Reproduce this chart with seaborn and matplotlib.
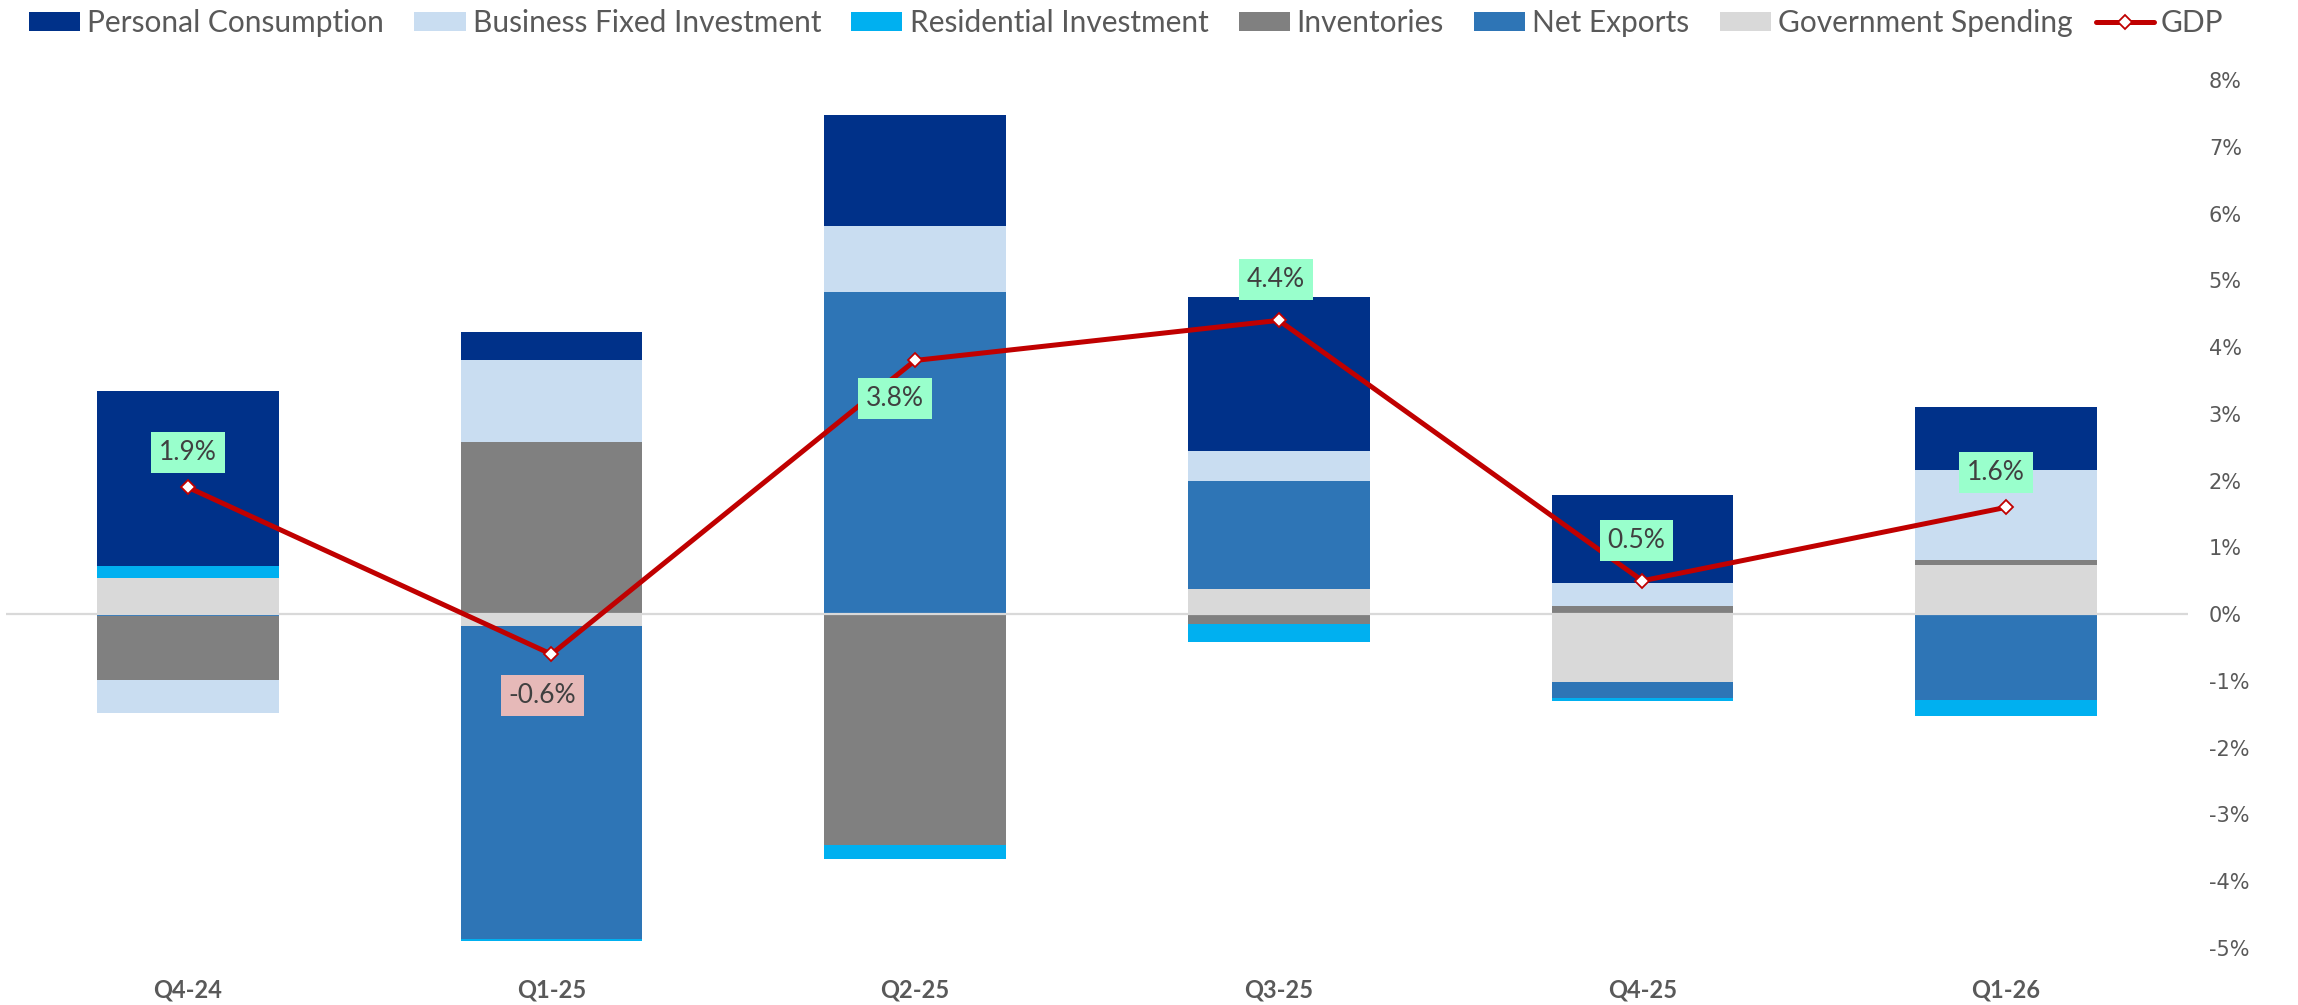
import numpy as np
import pandas as pd
import matplotlib
matplotlib.use("Agg")
import matplotlib.pyplot as plt
import seaborn as sns
from matplotlib.patches import Patch, Rectangle
from matplotlib.lines import Line2D
from matplotlib.legend_handler import HandlerPatch
from matplotlib.ticker import FuncFormatter, MultipleLocator

# ---------------- data ----------------
quarters = ["Q4-24", "Q1-25", "Q2-25", "Q3-25", "Q4-25", "Q1-26"]
personal_consumption = [2.62, 0.42, 1.66, 2.30, 1.32, 0.94]
business_fixed_inv = [-0.50, 1.23, 0.99, 0.46, 0.34, 1.35]
residential_inv = [0.18, -0.03, -0.22, -0.27, -0.04, -0.24]
inventories = [-0.95, 2.58, -3.45, -0.14, 0.12, 0.08]
net_exports = [-0.03, -4.70, 4.83, 1.62, -0.24, -1.28]
government = [0.54, -0.17, 0.00, 0.37, -1.02, 0.73]
gdp = [1.9, -0.6, 3.8, 4.4, 0.5, 1.6]
y_ticks = list(range(-5, 9))

# ---------------- style ----------------
sns.set_theme(style="white")
plt.rcParams["font.family"] = ["Lato", "DejaVu Sans"]

C_PC = "#003189"
C_BFI = "#C9DDF1"
C_RES = "#00B0F0"
C_INV = "#808080"
C_NX = "#2E75B6"
C_GOV = "#D9D9D9"
C_GDP = "#C00000"
TXT = "#595959"

legend_order = [
    ("Personal Consumption", personal_consumption, C_PC),
    ("Business Fixed Investment", business_fixed_inv, C_BFI),
    ("Residential Investment", residential_inv, C_RES),
    ("Inventories", inventories, C_INV),
    ("Net Exports", net_exports, C_NX),
    ("Government Spending", government, C_GOV),
]
# stacking from the zero axis outward
stack_order = [legend_order[i] for i in (5, 4, 3, 2, 1, 0)]

fig = plt.figure(figsize=(22.98, 10.05), dpi=100)
ax = fig.add_axes([0.0026, 0.0567, 0.9495, 0.8637])

pos_base = np.zeros(len(quarters))
neg_base = np.zeros(len(quarters))
for name, vals, col in stack_order:
    v = np.array(vals, dtype=float)
    bottom = np.where(v >= 0, pos_base, neg_base)
    df = pd.DataFrame({"q": quarters, "v": v})
    sns.barplot(data=df, x="q", y="v", order=quarters, bottom=bottom,
                color=col, saturation=1, width=0.5, errorbar=None,
                linewidth=0, edgecolor="none", ax=ax, zorder=2)
    pos_base += np.where(v >= 0, v, 0)
    neg_base += np.where(v < 0, v, 0)

ax.axhline(0, color="#D9D9D9", lw=1.6, zorder=3)

sns.lineplot(x=np.arange(len(quarters)), y=gdp, ax=ax, color=C_GDP, lw=3.6,
             marker="D", markersize=7.5, markerfacecolor="white",
             markeredgecolor=C_GDP, markeredgewidth=1.3, legend=False, zorder=5)

# data labels (offsets in points)
label_offsets = [(0, 25), (-6.5, -29.5), (-14.4, -27.4), (-2, 29.5), (-4.3, 28.8), (-7.2, 25.2)]
for i, (val, off) in enumerate(zip(gdp, label_offsets)):
    fc = "#99FFCC" if val >= 0 else "#E6B9B8"
    ax.annotate(f"{val:.1f}%", (i, val), xytext=off, textcoords="offset points",
                ha="center", va="center", fontsize=19, color="#404040",
                bbox=dict(boxstyle="square,pad=0.3", fc=fc, ec="none"), zorder=6)

ax.set_xlim(-0.5, len(quarters) - 0.5)
ax.set_ylim(y_ticks[0], y_ticks[-1])
ax.yaxis.set_major_locator(MultipleLocator(1))
ax.yaxis.set_major_formatter(FuncFormatter(lambda v, p: f"{v:.0f}%"))
ax.yaxis.tick_right()
ax.tick_params(axis="y", length=0, pad=15, labelsize=15, labelcolor=TXT)
ax.tick_params(axis="x", length=0, pad=22, labelsize=17, labelcolor=TXT)
for lab in ax.get_yticklabels():
    lab.set_fontfamily("DejaVu Sans")
for lab in ax.get_xticklabels():
    lab.set_fontweight("bold")
ax.set_xlabel("")
ax.set_ylabel("")
for s in ax.spines.values():
    s.set_visible(False)
ax.grid(False)


def right_patch(legend, orig_handle, xdescent, ydescent, width, height, fontsize):
    w = width * 0.877
    return Rectangle((-xdescent + width - w, -ydescent), w, height)


handles = [Patch(facecolor=c, edgecolor="none", label=n) for n, _, c in legend_order]
handles.append(Line2D([], [], color=C_GDP, lw=3.6, marker="D", markersize=7.5,
                      markerfacecolor="white", markeredgecolor=C_GDP,
                      markeredgewidth=1.3, label="GDP"))
fig.legend(handles=handles, loc="upper left", bbox_to_anchor=(0.0057, 1.0), ncol=7,
           frameon=False, fontsize=21.5, handlelength=1.95, handleheight=0.6,
           handletextpad=0.24, columnspacing=0.77, borderaxespad=0, borderpad=0.3,
           labelcolor=TXT, handler_map={Patch: HandlerPatch(patch_func=right_patch)})

fig.savefig("out.png", dpi=100)
